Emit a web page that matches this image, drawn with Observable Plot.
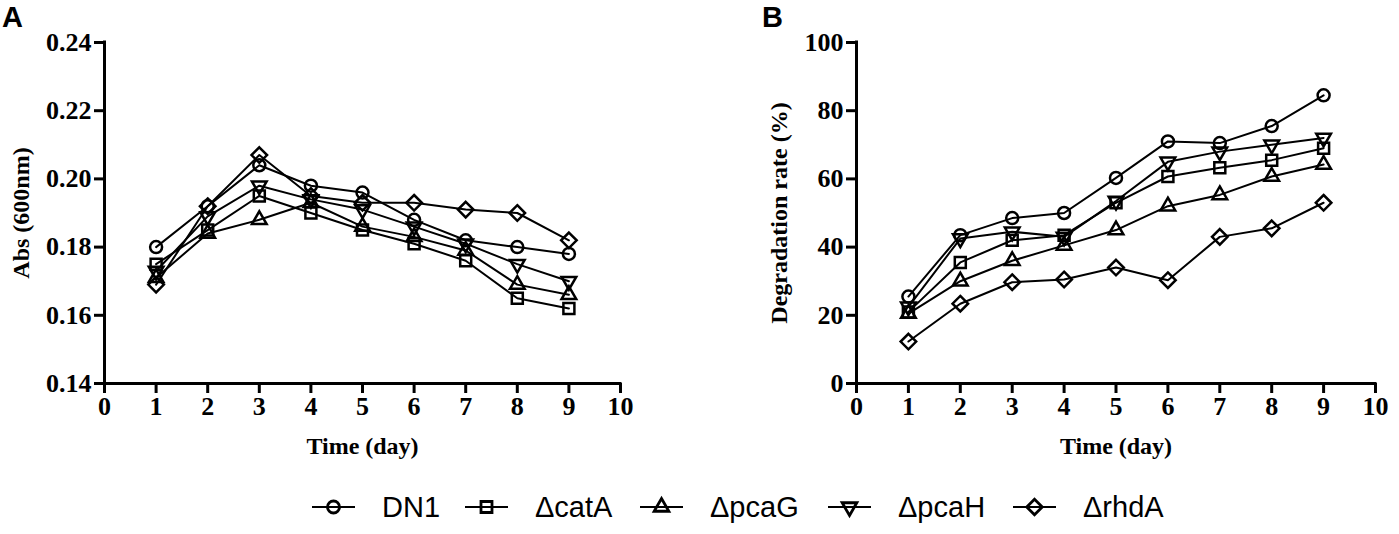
<!DOCTYPE html>
<html>
<head>
<meta charset="utf-8">
<script src="https://cdn.jsdelivr.net/npm/d3@7"></script>
<script src="https://cdn.jsdelivr.net/npm/@observablehq/plot@0.6"></script>
<style>
  body { margin: 0; background: #fff; }
  #wrap { position: relative; width: 1399px; height: 534px; overflow: hidden; background: #fff; }
  #wrap > svg { position: absolute; top: 0; }
</style>
</head>
<body>
<div id="wrap"></div>
<script>
// ---- data ----
const days = [1, 2, 3, 4, 5, 6, 7, 8, 9];
const strains = ["DN1", "ΔcatA", "ΔpcaG", "ΔpcaH", "ΔrhdA"];

// Panel A: Abs (600nm)
const absDN1  = [0.180, 0.192, 0.204, 0.198, 0.196, 0.188, 0.182, 0.180, 0.178];
const absCatA = [0.175, 0.185, 0.195, 0.190, 0.185, 0.181, 0.176, 0.165, 0.162];
const absPcaG = [0.171, 0.184, 0.188, 0.193, 0.186, 0.183, 0.179, 0.169, 0.166];
const absPcaH = [0.173, 0.189, 0.198, 0.194, 0.191, 0.186, 0.181, 0.175, 0.170];
const absRhdA = [0.169, 0.192, 0.207, 0.195, 0.193, 0.193, 0.191, 0.190, 0.182];

// Panel B: Degradation rate (%)
const degDN1  = [25.5, 43.5, 48.5, 50.0, 60.3, 71.0, 70.5, 75.5, 84.5];
const degCatA = [21.0, 35.5, 42.0, 43.5, 53.0, 60.7, 63.3, 65.5, 69.0];
const degPcaG = [20.5, 30.0, 36.0, 40.5, 45.0, 52.0, 55.3, 60.7, 64.2];
const degPcaH = [22.5, 42.5, 44.5, 43.0, 53.5, 65.0, 68.0, 70.0, 72.0];
const degRhdA = [12.3, 23.4, 29.7, 30.5, 34.0, 30.3, 43.0, 45.5, 53.0];

const xTicks = [0, 1, 2, 3, 4, 5, 6, 7, 8, 9, 10];
const yTicksA = [0.14, 0.16, 0.18, 0.20, 0.22, 0.24];
const yTicksB = [0, 20, 40, 60, 80, 100];

// ---- symbols ----
const invTriangle = {
  draw(ctx, size) {
    const s = Math.sqrt(size) * 0.6824, t = s / 2, u = s * Math.sqrt(3) / 2;
    ctx.moveTo(0, s); ctx.lineTo(u, -t); ctx.lineTo(-u, -t); ctx.closePath();
  }
};
const symbols = ["circle", "square2", "triangle2", invTriangle, "diamond2"];
const d3symbols = [d3.symbolCircle, d3.symbolSquare2, d3.symbolTriangle2, invTriangle, d3.symbolDiamond2];
const radii = [6, 7, 7, 7, 7];

const serif = '"Liberation Serif", "Times New Roman", serif';

function panel({series, yDomain, yTicks, yFormat, yLabel, width, marginLeft, marginRight, yTitleDx}) {
  const marks = [];
  series.forEach((vals) => {
    const rows = days.map((d, j) => ({day: d, value: vals[j]}));
    marks.push(Plot.line(rows, {x: "day", y: "value", stroke: "black", strokeWidth: 2}));
  });
  series.forEach((vals, i) => {
    const rows = days.map((d, j) => ({day: d, value: vals[j]}));
    marks.push(Plot.dot(rows, {x: "day", y: "value", symbol: symbols[i], r: radii[i],
      stroke: "black", strokeWidth: 2.5, fill: "none"}));
  });
  marks.push(
    Plot.axisX({ticks: xTicks, tickFormat: "d", tickSize: 10, tickPadding: 3, strokeWidth: 3,
      label: null, fontSize: 26, fontWeight: "bold", fontFamily: serif}),
    Plot.axisY({ticks: yTicks, tickFormat: yFormat, tickSize: 10, tickPadding: 3, strokeWidth: 3,
      label: null, fontSize: 26, fontWeight: "bold", fontFamily: serif}),
    Plot.ruleX([0], {stroke: "black", strokeWidth: 3, strokeLinecap: "square"}),
    Plot.ruleY([yDomain[0]], {stroke: "black", strokeWidth: 3, strokeLinecap: "square"}),
    Plot.text(["Time (day)"], {text: d => d, frameAnchor: "bottom", dy: 70, textAnchor: "middle",
      fontSize: 24, fontWeight: "bold", fontFamily: serif}),
    Plot.text([yLabel], {text: d => d, frameAnchor: "left", dx: yTitleDx, rotate: -90, textAnchor: "middle",
      fontSize: 24, fontWeight: "bold", fontFamily: serif})
  );
  return Plot.plot({
    width, height: 480,
    marginLeft, marginRight, marginTop: 42, marginBottom: 97,
    x: {domain: [0, 10], axis: null},
    y: {domain: yDomain, axis: null},
    style: {fontFamily: serif, fontWeight: "bold", color: "black", background: "white", overflow: "visible"},
    marks
  });
}

const wrap = document.getElementById("wrap");

const a = panel({
  series: [absDN1, absCatA, absPcaG, absPcaH, absRhdA],
  yDomain: [0.14, 0.24], yTicks: yTicksA, yFormat: ".2f", yLabel: "Abs (600nm)",
  width: 700, marginLeft: 104, marginRight: 80, yTitleDx: -83
});
a.style.left = "0px";
wrap.appendChild(a);

const b = panel({
  series: [degDN1, degCatA, degPcaG, degPcaH, degRhdA],
  yDomain: [0, 100], yTicks: yTicksB, yFormat: "d", yLabel: "Degradation rate (%)",
  width: 699, marginLeft: 156, marginRight: 24, yTitleDx: -77
});
b.style.left = "700px";
b.style.background = "transparent";
wrap.appendChild(b);

// ---- overlay: panel tags and legend ----
const ov = d3.create("svg").attr("width", 1399).attr("height", 534)
  .style("left", "0px").style("pointer-events", "none");
ov.append("text").attr("x", 2).attr("y", 27).text("A")
  .attr("font-family", '"Liberation Sans", Arial, sans-serif').attr("font-weight", "bold").attr("font-size", 29);
ov.append("text").attr("x", 762).attr("y", 27).text("B")
  .attr("font-family", '"Liberation Sans", Arial, sans-serif').attr("font-weight", "bold").attr("font-size", 29);

const legendStarts = [312, 465, 640, 828, 1013];
const legendY = 507;
strains.forEach((s, i) => {
  const x0 = legendStarts[i];
  const g = ov.append("g");
  g.append("line").attr("x1", x0).attr("x2", x0 + 43).attr("y1", legendY).attr("y2", legendY)
    .attr("stroke", "black").attr("stroke-width", 2);
  g.append("path").attr("transform", `translate(${x0 + 21.5},${legendY})`)
    .attr("d", d3.symbol(d3symbols[i], radii[i] * radii[i] * Math.PI)())
    .attr("fill", "none").attr("stroke", "black").attr("stroke-width", 2.8);
  g.append("text").attr("x", x0 + 70).attr("y", 517).text(s)
    .attr("font-family", '"Liberation Sans", Arial, sans-serif').attr("font-size", 29).attr("fill", "black");
});
wrap.appendChild(ov.node());
</script>
</body>
</html>
